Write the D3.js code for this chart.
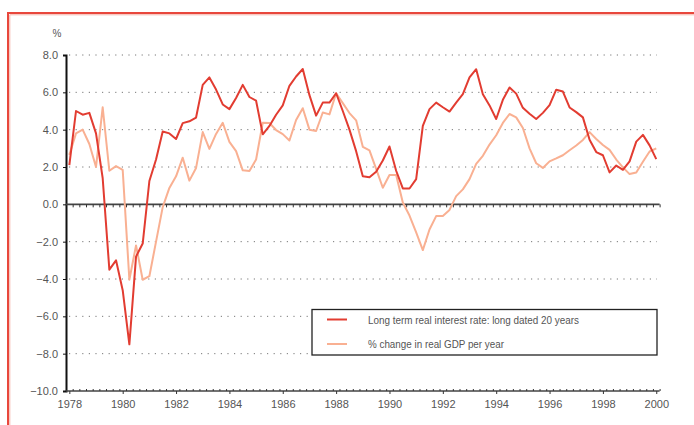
<!DOCTYPE html>
<html>

<head>
    <meta charset="UTF-8">
    <title>Real interest rate and GDP growth</title>
    <script src="https://d3js.org/d3.v7.min.js"></script>
    <style>
        body {
            margin: 0;
            background: #fff;
        }

        text {
            font-family: "Liberation Sans", Arial, sans-serif;
            fill: #555;
        }

        .legend text {
            font-family: "Liberation Sans Narrow", "Arial Narrow", "Liberation Sans", sans-serif;
            font-size: 11.5px;
        }

        .grid-line {
            stroke: #777;
            stroke-width: 1;
            stroke-dasharray: 1.2, 5.4;
        }
    </style>
</head>

<body>

    <script>
        var width = 694;
        var height = 425;

        // quarterly data, 1978 Q1 .. 2000 Q1
        var years = d3.range(1978, 2001, 2);
        var yTicks = [8, 6, 4, 2, 0, -2, -4, -6, -8, -10];
        var seriesNames = [
            "Long term real interest rate: long dated 20 years",
            "% change in real GDP per year"
        ];
        var interestRate = [
            2.1, 5.0, 4.8, 4.9, 3.8, 1.4, -3.5, -3.0, -4.6, -7.5,
            -2.8, -2.1, 1.25, 2.4, 3.9, 3.8, 3.5, 4.35, 4.45, 4.65,
            6.4, 6.8, 6.15, 5.35, 5.1, 5.7, 6.4, 5.75, 5.55, 3.75,
            4.2, 4.8, 5.3, 6.35, 6.85, 7.25, 5.85, 4.75, 5.45, 5.45,
            5.95, 5.0, 4.0, 2.85, 1.5, 1.45, 1.75, 2.35, 3.1, 1.8,
            0.85, 0.85, 1.35, 4.2, 5.1, 5.45, 5.2, 4.97, 5.45, 5.9,
            6.8, 7.24, 5.9, 5.3, 4.57, 5.6, 6.26, 5.93, 5.17, 4.85,
            4.57, 4.9, 5.32, 6.14, 6.04, 5.19, 4.94, 4.66, 3.46, 2.8,
            2.63, 1.71, 2.08, 1.85, 2.3, 3.36, 3.72, 3.16, 2.42
        ];
        var gdpGrowth = [
            2.65, 3.8, 4.0, 3.23, 2.0, 5.2, 1.8, 2.05, 1.85, -4.04,
            -2.2, -4.04, -3.85, -2.0, -0.15, 0.88, 1.5, 2.5, 1.27, 1.95,
            3.87, 2.97, 3.77, 4.37, 3.35, 2.85, 1.82, 1.79, 2.4, 4.37,
            4.36, 3.98, 3.76, 3.42, 4.52, 5.15, 4.0, 3.93, 4.92, 4.82,
            5.95, 5.42, 4.89, 4.5, 3.08, 2.89, 1.9, 0.89, 1.57, 1.57,
            0.1, -0.6, -1.5, -2.45, -1.35, -0.63, -0.62, -0.3, 0.44, 0.8,
            1.35, 2.17, 2.6, 3.2, 3.7, 4.36, 4.84, 4.66, 4.09, 3.0,
            2.2, 1.95, 2.3, 2.46, 2.63, 2.9, 3.15, 3.45, 3.87, 3.5,
            3.18, 2.92, 2.4, 1.98, 1.62, 1.71, 2.28, 2.83, 3.0
        ];
        var colors = ["#e23c31", "#f9b092"];
        var legendWidths = [211, 136];

        var n = interestRate.length;

        var svg = d3.select("body").append("svg")
            .attr("width", width)
            .attr("height", height);

        // red frame (cut off at right and bottom)
        svg.append("path")
            .attr("d", "M8," + height + " V13 H" + width)
            .attr("fill", "none")
            .attr("stroke", "#e8473c")
            .attr("stroke-width", 2);
        svg.append("path")
            .attr("d", "M9.8," + height + " V14.8 H" + width)
            .attr("fill", "none")
            .attr("stroke", "#f6b3a8")
            .attr("stroke-width", 1);

        var xScale = d3.scaleLinear()
            .domain([-0.5, n - 0.5])
            .range([66, 659.6]);

        var yScale = d3.scaleLinear()
            .domain([-10, 8])
            .range([391, 55]);

        // horizontal dotted grid lines
        svg.append("g")
            .selectAll("line")
            .data(yTicks.filter(function (d) { return d !== 0 && d !== -10; }))
            .enter().append("line")
            .attr("class", "grid-line")
            .attr("x1", xScale(-0.5) + 3)
            .attr("x2", 657)
            .attr("y1", function (d) { return yScale(d); })
            .attr("y2", function (d) { return yScale(d); });

        // y axis
        var yAxis = d3.axisLeft(yScale)
            .tickValues(yTicks)
            .tickSize(3)
            .tickPadding(5)
            .tickFormat(d3.format(".1f"));

        var gy = svg.append("g")
            .attr("transform", "translate(" + xScale(-0.5) + ",0)")
            .call(yAxis);
        gy.select(".domain")
            .attr("stroke", "#111")
            .attr("stroke-width", 2);
        gy.selectAll(".tick line").attr("stroke", "#111");
        gy.selectAll(".tick text")
            .style("font-size", "11px")
            .attr("fill", "#555");

        svg.append("text")
            .attr("x", 57)
            .attr("y", 37)
            .attr("text-anchor", "middle")
            .style("font-size", "10px")
            .text("%");

        // zero line with quarter marks
        var boundaries = d3.range(0, n).map(function (i) { return i + 0.5; });

        var zeroAxis = d3.axisBottom(xScale)
            .tickValues(boundaries)
            .tickSize(3)
            .tickFormat("");
        var gz = svg.append("g")
            .attr("transform", "translate(0," + yScale(0) + ")")
            .call(zeroAxis);
        gz.select(".domain")
            .attr("d", "M" + xScale(-0.5) + ",0H" + xScale(n - 0.5))
            .attr("stroke", "#444")
            .attr("stroke-width", 1.6);
        gz.selectAll(".tick line").attr("stroke", "#333");

        // bottom axis: quarter marks up, year marks down
        var minorAxis = d3.axisTop(xScale)
            .tickValues(boundaries)
            .tickSize(2)
            .tickFormat("");
        var gm = svg.append("g")
            .attr("transform", "translate(0," + yScale(-10) + ")")
            .call(minorAxis);
        gm.select(".domain")
            .attr("d", "M" + xScale(-0.5) + ",0H" + xScale(n - 0.5))
            .attr("stroke", "#444")
            .attr("stroke-width", 1.6);
        gm.selectAll(".tick line").attr("stroke", "#333");

        var xAxis = d3.axisBottom(xScale)
            .tickValues(years.map(function (y) { return (y - 1978) * 4; }))
            .tickSize(3)
            .tickPadding(6)
            .tickFormat(function (d) { return 1978 + d / 4; });
        var gx = svg.append("g")
            .attr("transform", "translate(0," + yScale(-10) + ")")
            .call(xAxis);
        gx.select(".domain").remove();
        gx.selectAll(".tick line").attr("stroke", "#333");
        gx.selectAll(".tick text")
            .style("font-size", "11px")
            .attr("fill", "#555");

        // the two series
        var line = d3.line()
            .x(function (d, i) { return xScale(i); })
            .y(function (d) { return yScale(d); });

        svg.append("path")
            .datum(gdpGrowth)
            .attr("fill", "none")
            .attr("stroke", colors[1])
            .attr("stroke-width", 2)
            .attr("stroke-linejoin", "round")
            .attr("d", line);

        svg.append("path")
            .datum(interestRate)
            .attr("fill", "none")
            .attr("stroke", colors[0])
            .attr("stroke-width", 2)
            .attr("stroke-linejoin", "round")
            .attr("d", line);

        // legend
        var legend = svg.append("g").attr("class", "legend");
        legend.append("rect")
            .attr("x", 312)
            .attr("y", 309.5)
            .attr("width", 345)
            .attr("height", 45.5)
            .attr("fill", "#fff")
            .attr("stroke", "#222")
            .attr("stroke-width", 1.3);

        var items = legend.selectAll(".item")
            .data(seriesNames)
            .enter().append("g")
            .attr("class", "item")
            .attr("transform", function (d, i) { return "translate(0," + (319.5 + i * 24.5) + ")"; });
        items.append("line")
            .attr("x1", 327)
            .attr("x2", 347)
            .attr("stroke", function (d, i) { return colors[i]; })
            .attr("stroke-width", 2);
        items.append("text")
            .attr("x", 368)
            .attr("y", 4)
            .attr("textLength", function (d, i) { return legendWidths[i]; })
            .attr("lengthAdjust", "spacingAndGlyphs")
            .text(function (d) { return d; });

    </script>
</body>

</html>
